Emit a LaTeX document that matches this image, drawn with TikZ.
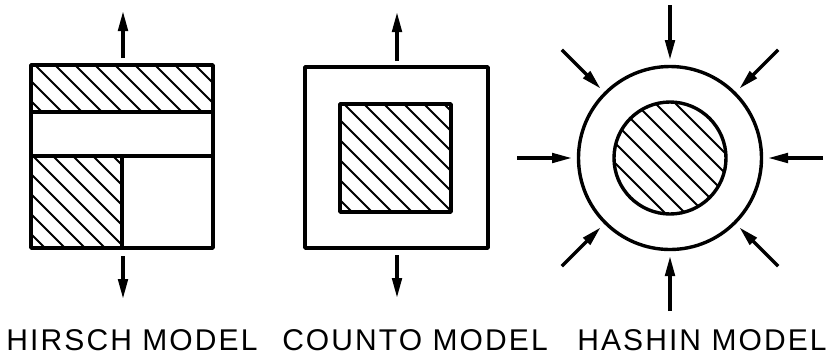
\documentclass[tikz,border=0pt]{standalone}
\usepackage{fontspec}
\setmainfont{Liberation Sans}
\newfontfamily\labelfont[LetterSpace=7]{Liberation Sans}
\usetikzlibrary{arrows.meta,calc}
\tikzset{
  outline/.style={line width=3.4pt, line join=round, line cap=round},
  hatchline/.style={line width=1.8pt},
  force/.style={line width=3.4pt, -{Triangle[length=20pt,width=9.5pt]}},
  caption/.style={font=\labelfont\fontsize{30}{30}\selectfont, anchor=base, inner sep=0pt}
}
\newcommand{\hatchbox}[5]{%
  \begin{scope}
    \clip (#1,#2) rectangle (#3,#4);
    \foreach \k in {-220,-200,...,220}{
      \draw[hatchline] ({#1+\k+#5},#2) -- ++(260,260);
    }
  \end{scope}}
\begin{document}
\begin{tikzpicture}[x=1pt,y=-1pt]
\useasboundingbox (0,0) rectangle (835,360);
% ---------- HIRSCH ----------
\hatchbox{31}{65}{213}{112}{4}
\hatchbox{31}{156}{122}{248}{2}
\draw[outline] (31,65) rectangle (213,248);
\draw[outline] (31,112) -- (213,112);
\draw[outline] (31,156) -- (213,156);
\draw[outline] (122,156) -- (122,248);
\coordinate (h1) at (123,58); \coordinate (h1e) at (123,11);
\coordinate (h2) at (123,256); \coordinate (h2e) at (123,299);
\draw[force] (h1) -- (h1e);
\draw[force] (h2) -- (h2e);
\node[caption] (hirsch) at (132,350) {HIRSCH MODEL};
% ---------- COUNTO ----------
\hatchbox{340}{104}{451}{212}{4}
\draw[outline] (305,67) rectangle (488,248);
\draw[outline] (340,104) rectangle (451,212);
\coordinate (c1) at (397,61); \coordinate (c1e) at (397,12);
\coordinate (c2) at (397,255); \coordinate (c2e) at (397,298);
\draw[force] (c1) -- (c1e);
\draw[force] (c2) -- (c2e);
\node[caption] (counto) at (415,350) {COUNTO MODEL};
% ---------- HASHIN ----------
\coordinate (hc) at (670,158);
\begin{scope}
  \clip (hc) circle (56);
  \foreach \k in {-140,-120,...,140}{
    \draw[hatchline] ({670-60+\k},98) -- ++(140,140);
  }
\end{scope}
\draw[outline] (hc) circle (91.5);
\draw[outline] (hc) circle (56);
\foreach \a in {0,45,...,315}{
  \draw[force] ($(hc)+(\a:153)$) -- ($(hc)+(\a:98)$);
}
\node[caption] (hashin) at (702,350) {HASHIN MODEL};
\end{tikzpicture}
\end{document}
